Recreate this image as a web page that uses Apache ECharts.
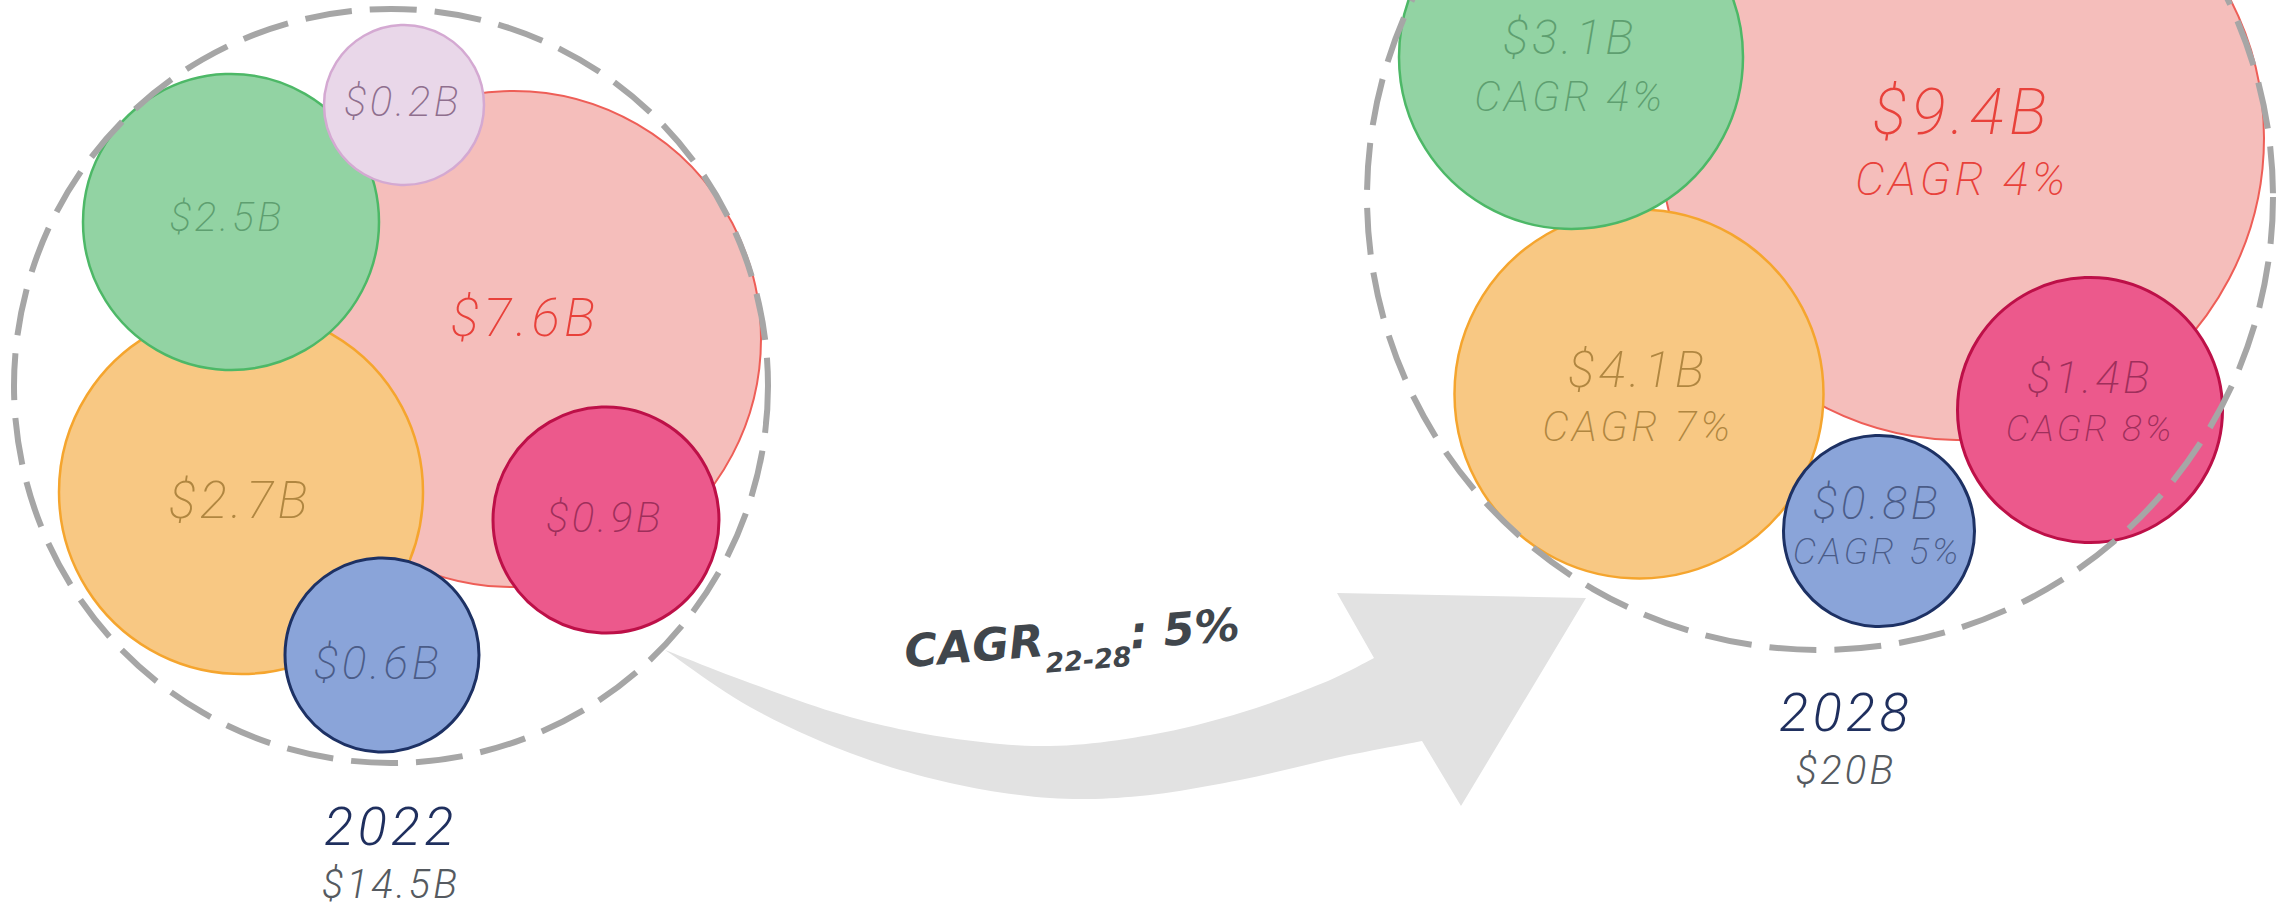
<!DOCTYPE html>
<html><head><meta charset="utf-8">
<script src="https://cdn.jsdelivr.net/npm/echarts@6/dist/echarts.min.js"></script>
<style>
html,body{margin:0;padding:0;background:#fff;overflow:hidden}
#c{width:2278px;height:906px}
#c svg text[style*="Roboto"]{letter-spacing:0.08em}
</style>
</head><body><div id="c"></div>
<script>
// ================= DATA =================
const years = ['2022', '2028'];
const totals = [14.5, 20];                       // $B, market total per year
// segment order: red, orange, green, lilac, blue, crimson
const values2022 = [7.6, 2.7, 2.5, 0.2, 0.6, 0.9]; // $B
const values2028 = [9.4, 4.1, 3.1, null, 0.8, 1.4]; // $B
const cagr2028 = [4, 7, 4, null, 5, 8];            // % CAGR 22-28
const overallCagr = 5;                             // %
const cagrPeriod = '22-28';

// ================= STYLE / LAYOUT (not data) =================
const palette = [
  {fill:'#F5BEBB', border:'#EE5E57', bw:2,   text:'#E8413A'},
  {fill:'#F8C883', border:'#F5A52E', bw:2.5, text:'#B08640'},
  {fill:'#92D3A3', border:'#4DB867', bw:2.5, text:'#5E9F70'},
  {fill:'#E9D7E9', border:'#D4A9D2', bw:2.5, text:'#8F6F8E'},
  {fill:'#8AA4D9', border:'#1D3164', bw:3,   text:'#4A5C88'},
  {fill:'#EC598C', border:'#BD1048', bw:3,   text:'#9E2F5B'}
];
const layout2022 = [
  {cx:513, cy:339, r:248, dx:12, dy:-21, fv:53},
  {cx:241, cy:492, r:182, dx:-1, dy:8,   fv:51},
  {cx:231, cy:222, r:148, dx:-4, dy:-5,  fv:41},
  {cx:404, cy:105, r:80,  dx:-1, dy:-4,  fv:42},
  {cx:382, cy:655, r:97,  dx:-4, dy:8,   fv:46},
  {cx:606, cy:520, r:113, dx:-1, dy:-3,  fv:42}
];
const layout2028 = [
  {cx:1962, cy:138, r:302,   dx:0,  dy:7,  fv:64, fc:47, lh:66},
  {cx:1639, cy:394, r:184.5, dx:-1, dy:4,  fv:50, fc:42, lh:56},
  {cx:1571, cy:57,  r:172,   dx:-1, dy:10, fv:48, fc:42, lh:59},
  null,
  {cx:1879, cy:531, r:95.5,  dx:-2, dy:-4, fv:46, fc:37, lh:48},
  {cx:2090, cy:410, r:132.5, dx:0,  dy:-7, fv:45, fc:37, lh:51}
];
const groupOutline = [
  {cx:391, cy:386, r:377, ly:826},
  {cx:1820, cy:197, r:453, ly:712, lx:1846}
];
const FONT = 'Roboto, "Open Sans", sans-serif';

function bubbleItems(values, cagrs, layout) {
  const out = [];
  values.forEach((v, i) => {
    if (v == null || !layout[i]) return;
    const L = layout[i], P = palette[i];
    const hasC = cagrs && cagrs[i] != null;
    const fmt = '{v|$' + v.toFixed(1) + 'B}' + (hasC ? '\n{c|CAGR ' + cagrs[i] + '%}' : '');
    out.push({
      value: [L.cx, L.cy, v],
      symbolSize: L.r * 2,
      itemStyle: {color: P.fill, borderColor: P.border, borderWidth: P.bw, opacity: 1},
      label: {
        show: true, position: 'inside', offset: [L.dx, L.dy], formatter: fmt,
        rich: {
          v: {fontFamily: FONT, fontStyle: 'italic', fontWeight: 200, fontSize: L.fv,
              lineHeight: L.lh || L.fv, color: P.text},
          c: {fontFamily: FONT, fontStyle: 'italic', fontWeight: 200, fontSize: L.fc || 40,
              lineHeight: L.lh || 40, color: P.text}
        }
      }
    });
  });
  return out;
}

// curved arrow outline (decoration): smooth curves through traced points
function catmull(pts, n) {
  const out = [];
  for (let i = 0; i < pts.length - 1; i++) {
    const p0 = pts[Math.max(i - 1, 0)], p1 = pts[i], p2 = pts[i + 1], p3 = pts[Math.min(i + 2, pts.length - 1)];
    for (let k = 0; k < n; k++) {
      const t = k / n, t2 = t * t, t3 = t2 * t;
      out.push([0, 1].map(d => 0.5 * ((2 * p1[d]) + (-p0[d] + p2[d]) * t +
        (2 * p0[d] - 5 * p1[d] + 4 * p2[d] - p3[d]) * t2 + (-p0[d] + 3 * p1[d] - 3 * p2[d] + p3[d]) * t3)));
    }
  }
  out.push(pts[pts.length - 1]);
  return out;
}
const arrowUpper = [[665,650],[750,683],[850,717],[950,738],[1050,746],[1150,735],[1240,713],[1323,683],[1374,658]];
const arrowHead = [[1337,593],[1586,598],[1461,806]];
const arrowLower = [[1422,741],[1340,757],[1240,780],[1140,796],[1050,798],[950,783],[850,753],[750,707],[665,650]];
const arrowPts = catmull(arrowUpper, 12).concat(arrowHead).concat(catmull(arrowLower, 12));

const chart = echarts.init(document.getElementById('c'), null, {renderer: 'svg', width: 2278, height: 906});
const W = 2278, H = 906;
const BOLD = '"DejaVu Sans", sans-serif';

const graphics = [
  {type: 'polygon', z: -10, shape: {points: arrowPts}, style: {fill: '#E2E2E2'}, silent: true},
  {type: 'text', x: 1072, y: 638, rotation: 0.082, z: 10,
   style: {
     text: '{m|CAGR}{s|' + cagrPeriod + '}{m|: ' + overallCagr + '%}',
     align: 'center', verticalAlign: 'middle',
     rich: {
       m: {fontFamily: BOLD, fontWeight: 'bold', fontStyle: 'italic', fontSize: 45, lineHeight: 45, fill: '#40464C', verticalAlign: 'top'},
       s: {fontFamily: BOLD, fontWeight: 'bold', fontStyle: 'italic', fontSize: 27, lineHeight: 27, fill: '#40464C', verticalAlign: 'top', padding: [32, 0, 0, 0]}
     }
   }}
];
years.forEach((y, k) => {
  const g = groupOutline[k];
  const lx = g.lx || g.cx;
  graphics.push({type: 'text', x: lx, y: g.ly, z: 10,
    style: {text: y, align: 'center', verticalAlign: 'middle', fontFamily: FONT, fontStyle: 'italic', fontWeight: 300, fontSize: 54, fill: '#1F2F5E'}});
  graphics.push({type: 'text', x: lx, y: g.ly + 58, z: 10,
    style: {text: '$' + totals[k] + 'B', align: 'center', verticalAlign: 'middle', fontFamily: FONT, fontStyle: 'italic', fontWeight: 300, fontSize: 40, fill: '#555A60'}});
});

chart.setOption({
  animation: false,
  backgroundColor: '#ffffff',
  grid: {left: 0, right: 0, top: 0, bottom: 0, containLabel: false},
  xAxis: {type: 'value', min: 0, max: W, show: false},
  yAxis: {type: 'value', min: 0, max: H, inverse: true, show: false},
  graphic: graphics,
  series: [
    {type: 'scatter', name: years[0], z: 2, silent: true, emphasis: {disabled: true}, symbol: 'circle',
     data: bubbleItems(values2022, null, layout2022)},
    {type: 'scatter', name: years[1], z: 2, silent: true, emphasis: {disabled: true}, symbol: 'circle',
     data: bubbleItems(values2028, cagr2028, layout2028)},
    {type: 'scatter', name: 'outline', z: 5, silent: true, emphasis: {disabled: true}, symbol: 'circle',
     data: groupOutline.map(g => ({value: [g.cx, g.cy], symbolSize: g.r * 2})),
     itemStyle: {color: 'rgba(0,0,0,0)', borderColor: '#A6A6A6', borderWidth: 6, borderType: [47, 18], opacity: 1}}
  ]
});
</script></body></html>
